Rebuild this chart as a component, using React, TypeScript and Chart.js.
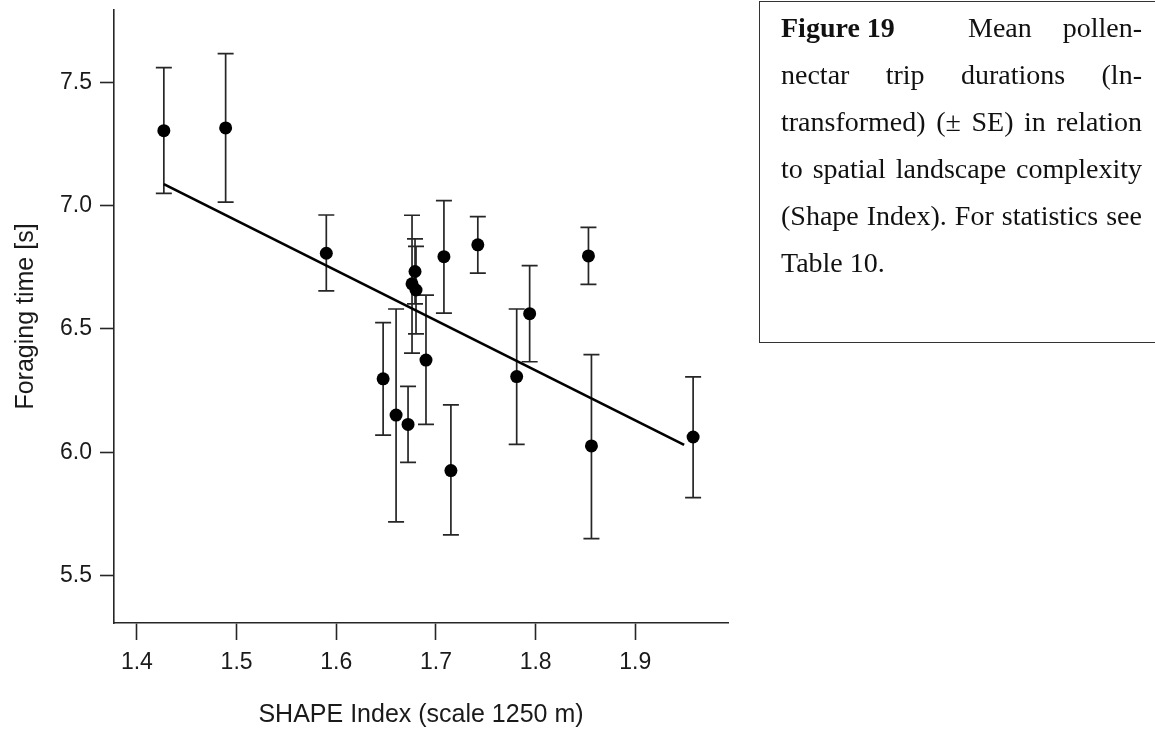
import React, { useEffect, useRef } from "react";
import { Chart, registerables } from "chart.js";

Chart.register(...registerables);

// ---- Data ----
const shapeIndex = [1.427, 1.489, 1.590, 1.647, 1.660, 1.672, 1.676, 1.679, 1.680, 1.690, 1.708, 1.715, 1.742, 1.781, 1.794, 1.853, 1.856, 1.958];
const foragingTime = [7.304, 7.315, 6.807, 6.298, 6.151, 6.113, 6.683, 6.733, 6.658, 6.374, 6.793, 5.926, 6.841, 6.307, 6.562, 6.796, 6.026, 6.062];
const seUpper = [7.559, 7.616, 6.962, 6.526, 6.581, 6.267, 6.961, 6.865, 6.835, 6.637, 7.020, 6.192, 6.955, 6.581, 6.757, 6.912, 6.396, 6.306];
const seLower = [7.050, 7.014, 6.654, 6.070, 5.718, 5.959, 6.402, 6.602, 6.480, 6.113, 6.564, 5.665, 6.726, 6.032, 6.367, 6.681, 5.650, 5.816];

const fitX = [1.427, 1.949];
const fitY = [7.087, 6.030];

const xTicks = [1.4, 1.5, 1.6, 1.7, 1.8, 1.9];
const yTicks = [5.5, 6.0, 6.5, 7.0, 7.5];
const xRange = [1.377, 1.993];
const yRange = [5.308, 7.793];

const xTitle = "SHAPE Index (scale 1250 m)";
const yTitle = "Foraging time [s]";

const captionLines = [
  ["nectar", "trip", "durations", "(ln-"],
  ["transformed)", "(±", "SE)", "in", "relation"],
  ["to", "spatial", "landscape", "complexity"],
  ["(Shape", "Index).", "For", "statistics", "see"],
];
const captionHead = "Figure 19";
const captionFirst = ["Mean", "pollen-"];
const captionLast = "Table 10.";

const SANS = "'Liberation Sans', Arial, Helvetica, sans-serif";
const SERIF = "'Liberation Serif', 'Times New Roman', serif";
const INK = "#1a1a1a";

const errorBarsPlugin = {
  id: "errorBars",
  beforeDatasetsDraw(chart: any) {
    const { ctx } = chart;
    const x = chart.scales.x;
    const y = chart.scales.y;
    ctx.save();
    ctx.strokeStyle = "#262626";
    ctx.lineWidth = 1.7;
    for (let i = 0; i < shapeIndex.length; i++) {
      const px = x.getPixelForValue(shapeIndex[i]);
      const top = y.getPixelForValue(seUpper[i]);
      const bot = y.getPixelForValue(seLower[i]);
      ctx.beginPath();
      ctx.moveTo(px, top);
      ctx.lineTo(px, bot);
      ctx.moveTo(px - 8, top);
      ctx.lineTo(px + 8, top);
      ctx.moveTo(px - 8, bot);
      ctx.lineTo(px + 8, bot);
      ctx.stroke();
    }
    ctx.restore();
  },
};

const axisTitlesPlugin = {
  id: "axisTitles",
  afterDraw(chart: any) {
    const { ctx, chartArea } = chart;
    ctx.save();
    ctx.fillStyle = INK;
    ctx.font = `25px ${SANS}`;
    ctx.textAlign = "center";
    ctx.textBaseline = "alphabetic";
    ctx.fillText(xTitle, (chartArea.left + chartArea.right) / 2, 722);
    ctx.translate(33, (chartArea.top + chartArea.bottom) / 2);
    ctx.rotate(-Math.PI / 2);
    ctx.fillText(yTitle, 0, 0);
    ctx.restore();
  },
};

function ScatterChart() {
  const ref = useRef<HTMLCanvasElement | null>(null);
  useEffect(() => {
    if (!ref.current) return;
    const chart = new Chart(ref.current, {
      type: "scatter",
      data: {
        datasets: [
          {
            label: "Mean",
            data: shapeIndex.map((v, i) => ({ x: v, y: foragingTime[i] })),
            pointRadius: 6.5,
            pointBackgroundColor: "#000",
            pointBorderWidth: 0,
            showLine: false,
            order: 0,
          },
          {
            type: "line",
            label: "Fit",
            data: fitX.map((v, i) => ({ x: v, y: fitY[i] })),
            borderColor: "#000",
            borderWidth: 2.7,
            pointRadius: 0,
            fill: false,
            order: 1,
          } as any,
        ],
      },
      options: {
        animation: false,
        responsive: false,
        events: [],
        layout: { padding: { left: 0, top: 10, right: 32, bottom: 0 } },
        plugins: { legend: { display: false }, tooltip: { enabled: false } },
        scales: {
          x: {
            type: "linear",
            min: xRange[0],
            max: xRange[1],
            afterFit: (s: any) => {
              s.height = 110;
              s.paddingLeft = 0;
              s.paddingRight = 0;
            },
            afterBuildTicks: (s: any) => { s.ticks = xTicks.map((v) => ({ value: v })); },
            ticks: {
              color: INK,
              font: { family: SANS, size: 23 },
              padding: 9,
              maxRotation: 0,
              autoSkip: false,
              callback: (v: any) => Number(v).toFixed(1),
            },
            grid: { drawOnChartArea: false, drawTicks: true, tickLength: 17, tickColor: "#262626", tickWidth: 1.6 },
            border: { display: true, color: "#262626", width: 1.6 },
          },
          y: {
            type: "linear",
            min: yRange[0],
            max: yRange[1],
            afterFit: (s: any) => {
              s.width = 114;
              s.paddingTop = 0;
              s.paddingBottom = 0;
            },
            afterBuildTicks: (s: any) => { s.ticks = yTicks.map((v) => ({ value: v })); },
            ticks: {
              color: INK,
              font: { family: SANS, size: 23 },
              padding: 8,
              autoSkip: false,
              callback: (v: any) => Number(v).toFixed(1),
            },
            grid: { drawOnChartArea: false, drawTicks: true, tickLength: 14, tickColor: "#262626", tickWidth: 1.6 },
            border: { display: true, color: "#262626", width: 1.6 },
          },
        },
      },
      plugins: [errorBarsPlugin, axisTitlesPlugin],
    });
    return () => chart.destroy();
  }, []);
  return (
    <canvas
      ref={ref}
      width={760}
      height={733}
      style={{ position: "absolute", left: 0, top: 0, width: 760, height: 733 }}
    />
  );
}

function Caption() {
  const lineStyle: React.CSSProperties = {
    display: "flex",
    justifyContent: "space-between",
    height: 47,
    lineHeight: "47px",
    whiteSpace: "nowrap",
  };
  return (
    <>
      <div
        style={{
          position: "absolute",
          left: 759,
          top: 1,
          right: 0,
          height: 342,
          borderTop: "1.5px solid #333",
          borderLeft: "1.5px solid #333",
          borderBottom: "1.5px solid #333",
          boxSizing: "border-box",
        }}
      />
      <div
        style={{
          position: "absolute",
          left: 781,
          top: 4,
          width: 361,
          fontFamily: SERIF,
          fontSize: 28,
          color: "#111",
        }}
      >
        <div style={{ display: "flex", height: 47, lineHeight: "47px", whiteSpace: "nowrap" }}>
          <span style={{ width: 187, flexShrink: 0, fontWeight: 700 }}>{captionHead}</span>
          <div style={{ flex: 1, display: "flex", justifyContent: "space-between" }}>
            {captionFirst.map((w, i) => (
              <span key={i}>{w}</span>
            ))}
          </div>
        </div>
        {captionLines.map((words, li) => (
          <div key={li} style={lineStyle}>
            {words.map((w, i) => (
              <span key={i}>{w}</span>
            ))}
          </div>
        ))}
        <div style={{ height: 47, lineHeight: "47px", whiteSpace: "nowrap" }}>{captionLast}</div>
      </div>
    </>
  );
}

export default function App() {
  return (
    <div
      style={{
        position: "fixed",
        left: 0,
        top: 0,
        width: 1155,
        height: 733,
        overflow: "hidden",
        background: "#fff",
      }}
    >
      <ScatterChart />
      <Caption />
    </div>
  );
}
